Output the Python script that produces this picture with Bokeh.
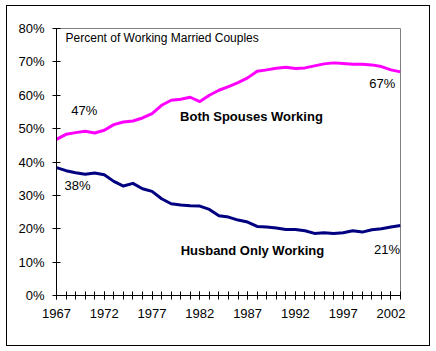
from bokeh.plotting import figure
from bokeh.models import Range1d, FixedTicker, PrintfTickFormatter, Label
from bokeh.embed import file_html
from bokeh.resources import INLINE

years = list(range(1967, 2004))
both_spouses = [46.8, 48.3, 48.8, 49.2, 48.7, 49.5, 51.2, 52.0, 52.3, 53.2,
                54.5, 57.0, 58.5, 58.8, 59.4, 58.1, 60.0, 61.5, 62.6, 63.8,
                65.2, 67.2, 67.6, 68.1, 68.4, 68.0, 68.2, 68.8, 69.4, 69.7,
                69.5, 69.3, 69.3, 69.1, 68.6, 67.6, 67.0]
husband_only = [38.3, 37.4, 36.8, 36.3, 36.7, 36.2, 34.2, 32.8, 33.6, 32.0,
                31.2, 29.0, 27.5, 27.1, 26.9, 26.8, 25.8, 23.9, 23.5, 22.6,
                22.0, 20.7, 20.5, 20.2, 19.8, 19.8, 19.4, 18.6, 18.8, 18.6,
                18.8, 19.4, 19.0, 19.7, 20.0, 20.5, 21.0]
x_tick_labels = [1967, 1972, 1977, 1982, 1987, 1992, 1997, 2002]
y_ticks = [0, 10, 20, 30, 40, 50, 60, 70, 80]

FONT = "Liberation Sans"

p = figure(width=422, height=339, output_backend="svg", toolbar_location=None,
           x_range=Range1d(1967, 2003), y_range=Range1d(0, 80),
           min_border_left=49, min_border_right=29, min_border_top=22,
           min_border_bottom=50, margin=(6, 7, 6, 7))
p.styles = {"outline": "1px solid black", "outline-offset": "0px"}
p.grid.visible = False
p.outline_line_color = "#808080"
p.outline_line_width = 1
p.background_fill_color = "white"
p.border_fill_alpha = 0

p.line(years, both_spouses, line_color="#FF00FF", line_width=3, line_join="round")
p.line(years, husband_only, line_color="#000080", line_width=3, line_join="round")

xa = p.xaxis[0]
xa.ticker = FixedTicker(ticks=x_tick_labels, minor_ticks=years)
xa.major_tick_in = 4
xa.major_tick_out = 4
xa.minor_tick_in = 4
xa.minor_tick_out = 4
xa.major_tick_line_color = "black"
xa.minor_tick_line_color = "black"
xa.axis_line_color = "black"
xa.major_label_text_font = FONT
xa.major_label_text_font_size = "13px"
xa.major_label_text_color = "black"
xa.major_label_standoff = 9

ya = p.yaxis[0]
ya.ticker = FixedTicker(ticks=y_ticks, minor_ticks=[])
ya.formatter = PrintfTickFormatter(format="%d%%")
ya.major_tick_in = 4
ya.major_tick_out = 4
ya.minor_tick_line_color = None
ya.major_tick_line_color = "black"
ya.axis_line_color = "black"
ya.major_label_text_font = FONT
ya.major_label_text_font_size = "13px"
ya.major_label_text_color = "black"
ya.major_label_standoff = 8

def lab(x, y, text, bold=False, align="center", size="13px"):
    p.add_layout(Label(x=x, y=y, text=text, text_font=FONT, text_font_size=size,
                       text_font_style="bold" if bold else "normal",
                       text_align=align, text_baseline="middle", text_color="black"))

lab(1967.95, 77.3, "Percent of Working Married Couples", align="left", size="12px")
lab(1969.9, 55.3, "47%")
lab(1987.4, 53.5, "Both Spouses Working", bold=True)
lab(1969.2, 33.1, "38%")
lab(1987.5, 13.5, "Husband Only Working", bold=True)
lab(2001.6, 13.8, "21%")
lab(2001.1, 63.5, "67%")

open("out.html", "w").write(file_html(p, INLINE))
